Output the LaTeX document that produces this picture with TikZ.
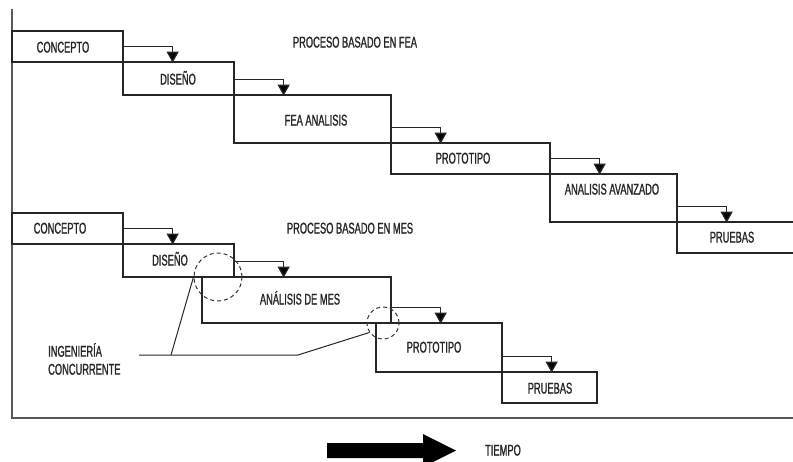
\documentclass[tikz,border=0pt]{standalone}
\usepackage{fontspec}
\setmainfont{Liberation Sans}[FakeStretch=0.6,FakeBold=1.2]
\usetikzlibrary{fit,arrows.meta}
\begin{document}
\begin{tikzpicture}[x=1pt,y=-1pt,
  stage/.style={draw=black!85, line width=1.3pt, inner sep=0pt, rectangle},
  lbl/.style={inner sep=0pt, text height=11pt, text depth=0pt, font=\fontsize{15.5}{18}\selectfont, text=black!85},
  flow/.style={draw=black!85, line width=1.3pt, -{Triangle[length=11pt,width=12pt,fill=black]}},
  frame/.style={draw=black!65, line width=1.6pt},
  ring/.style={circle, draw=black!80, line width=1pt, dash pattern=on 4pt off 3pt, inner sep=0pt},
  lead/.style={draw=black!85, line width=1pt}]
\useasboundingbox (0,0) rectangle (793,461);
\clip (0,0) rectangle (793,461);

% frame
\coordinate (ftop) at (12,9);
\coordinate (fcorner) at (12,418);
\coordinate (fright) at (800,418);
\draw[frame] (ftop) -- (fcorner) -- (fright);

% upper process (FEA)
\node[stage, fit={(12,31) (123,62)}] (a1) {};
\node[stage, fit={(123,62) (234,95)}] (a2) {};
\node[stage, fit={(234,95) (391,143)}] (a3) {};
\node[stage, fit={(391,143) (550,174)}] (a4) {};
\node[stage, fit={(550,174) (677,222)}] (a5) {};
\node[stage, fit={(677,222) (805,253)}] (a6) {};

\node[lbl] (ta1) at (63,47) {CONCEPTO};
\node[lbl] (ta2) at (178,79) {DISEÑO};
\node[lbl] (ta3) at (316,120) {FEA ANALISIS};
\node[lbl] (ta4) at (463,158) {PROTOTIPO};
\node[lbl] (ta5) at (612,189) {ANALISIS AVANZADO};
\node[lbl] (ta6) at (732,237) {PRUEBAS};
\node[lbl] (tfea) at (355,42) {PROCESO BASADO EN FEA};

\foreach \s in {a1,a2,a3,a4,a5}{
  \draw[flow] ([yshift=16pt]\s.south east) -| ([xshift=49pt]\s.south east);
}

% lower process (MES)
\node[stage, fit={(12,213) (123,244)}] (b1) {};
\node[stage, fit={(123,244) (234,277)}] (b2) {};
\node[stage, fit={(202,277) (391,323)}] (b3) {};
\node[stage, fit={(376,323) (502,372)}] (b4) {};
\node[stage, fit={(502,372) (597,403)}] (b5) {};

\node[lbl] (tb1) at (60,228) {CONCEPTO};
\node[lbl] (tb2) at (170,260) {DISEÑO};
\node[lbl] (tb3) at (300,299) {ANÁLISIS DE MES};
\node[lbl] (tb4) at (434,347) {PROTOTIPO};
\node[lbl] (tb5) at (550,388) {PRUEBAS};
\node[lbl] (tmes) at (350,228) {PROCESO BASADO EN MES};

\foreach \s in {b1,b2,b3,b4}{
  \draw[flow] ([yshift=16pt]\s.south east) -| ([xshift=49pt]\s.south east);
}

% concurrent engineering marks
\node[ring, minimum size=48pt] (r1) at (218,277) {};
\node[ring, minimum size=32pt] (r2) at (383,323) {};
\coordinate (l0) at (139,355);
\coordinate (l1) at (298,355);
\coordinate (l2) at (171,355);
\draw[lead] (l0) -- (l1) -- (r2.215);
\draw[lead] (l2) -- (r1.west);
\node[lbl, text height=, text depth=, align=left, anchor=north west] (ting) at (48,343) {INGENIERÍA\\CONCURRENTE};

% time arrow
\fill[black] (327,443) -- (423,443) -- (423,434) -- (456,450.5) -- (423,467) -- (423,458) -- (327,458) -- cycle;
\node[lbl] (ttime) at (503,450) {TIEMPO};
\end{tikzpicture}
\end{document}
